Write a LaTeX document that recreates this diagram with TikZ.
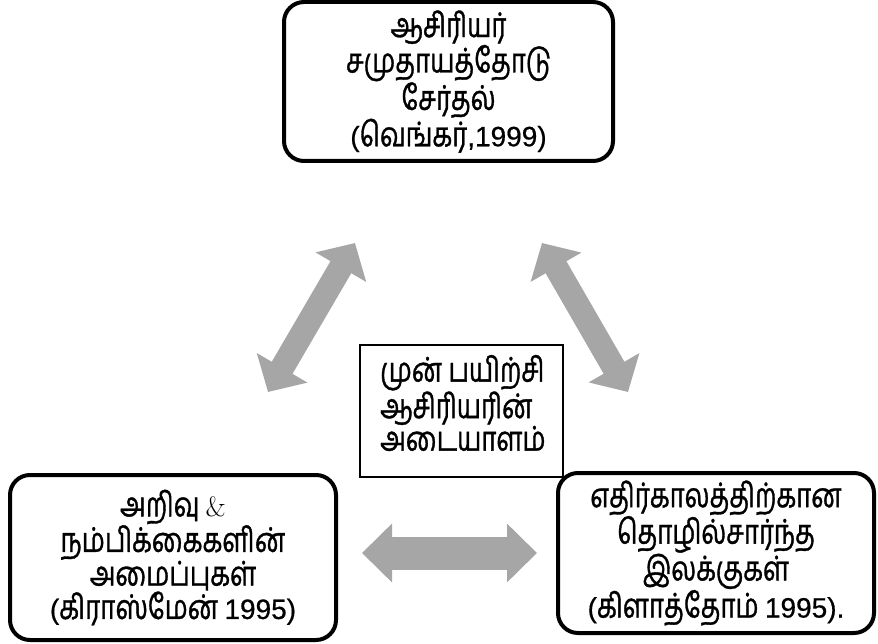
\documentclass[tikz,border=0pt]{standalone}
\usepackage{fontspec}
\newfontfamily\tam[Script=Tamil,FakeStretch=0.76,FakeBold=1.0]{Hind Madurai}
\newfontfamily\latn[FakeBold=0.6]{Liberation Sans}
\newcommand\lnum[1]{{\latn\fontsize{28}{33}\selectfont #1}}
\newcommand\amp{{\rmfamily\fontsize{28}{33}\selectfont\&}}
\usetikzlibrary{arrows.meta}
\definecolor{arrowgray}{RGB}{166,166,166}
\tikzset{
  bigbox/.style={draw=black, line width=4pt, rounded corners=20pt, fill=white,
    inner sep=0pt, align=center},
  midbox/.style={draw=black, line width=1.4pt, fill=white, inner sep=0pt},
  midtext/.style={inner sep=0pt, align=left, anchor=west, font=\tam\fontsize{34}{32.5}\selectfont},
  diagarrow/.style={draw=arrowgray, line width=24pt,
    {Triangle[width=57pt,length=28pt]}-{Triangle[width=57pt,length=28pt]}},
  horarrow/.style={draw=arrowgray, line width=33pt,
    {Triangle[width=57pt,length=30pt]}-{Triangle[width=57pt,length=30pt]}}
}
\begin{document}
\begin{tikzpicture}[x=1pt,y=-1pt]
\useasboundingbox (0,0) rectangle (878,644);
% boxes
\node[bigbox, minimum width=329pt, minimum height=159pt, font=\tam\fontsize{34}{33}\selectfont] (top) at (448.5,81.5)
  {ஆசிரியர்\\சமுதாயத்தோடு\\சேர்தல்\\\lnum{(}வெங்கர்\lnum{,1999)}};
\node[bigbox, minimum width=326pt, minimum height=165pt, font=\tam\fontsize{34}{30.5}\selectfont] (bl) at (173,557.5)
  {அறிவு \amp\\நம்பிக்கைகளின்\\அமைப்புகள்\\\lnum{(}கிராஸ்மேன் \lnum{1995)}};
\node[midbox, minimum width=203pt, minimum height=132pt] (mid) at (461.5,411) {};
\node[midtext] (midt) at (380,403)
  {முன் பயிற்சி\\ஆசிரியரின்\\அடையாளம்};
\node[bigbox, minimum width=316pt, minimum height=160pt, font=\tam\fontsize{34}{31}\selectfont] (br) at (716,553)
  {எதிர்காலத்திற்கான\\தொழில்சார்ந்த\\இலக்குகள்\\\lnum{(}கிளாத்தோம் \lnum{1995).}};
% arrow end points
\coordinate (la) at (268,392);
\coordinate (lb) at (355,243);
\coordinate (ra) at (628,392);
\coordinate (rb) at (542,243);
\coordinate (ha) at (362,553);
\coordinate (hb) at (537,553);
\draw[diagarrow] (la) -- (lb);
\draw[diagarrow] (ra) -- (rb);
\draw[horarrow] (ha) -- (hb);
\end{tikzpicture}
\end{document}
